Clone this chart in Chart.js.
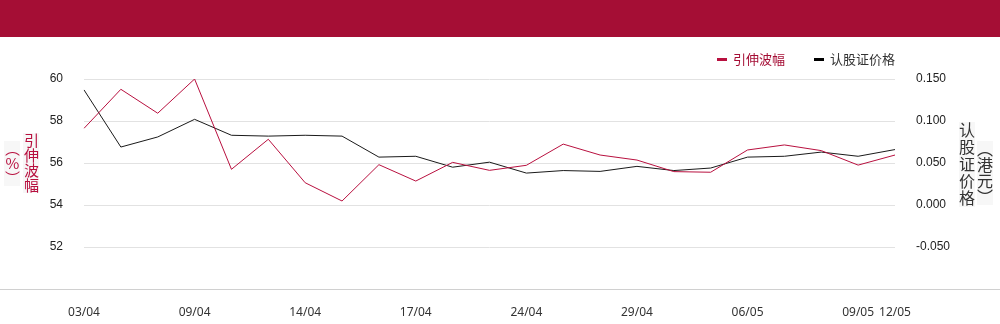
<!DOCTYPE html>
<html>
<head>
<meta charset="utf-8">
<script src="https://cdn.jsdelivr.net/npm/chart.js@4"></script>
<style>
  body { margin: 0; background: #fff; }
  #wrap { position: relative; width: 1000px; height: 324px; overflow: hidden; font-family: "Noto Sans CJK SC", "Noto Sans", sans-serif; }
  #header { position: absolute; left: 0; top: 0; width: 1000px; height: 37px; background: #a50e35; }
  #baseline { position: absolute; left: 0; top: 289px; width: 1000px; height: 1px; background: #d0d0d0; }
  canvas { position: absolute; left: 0; top: 0; }
  .legend { position: absolute; top: 50px; font-size: 13px; line-height: 18px; white-space: nowrap; }
  .legend i { display: inline-block; width: 10px; height: 3px; vertical-align: middle; margin-right: 6px; position: relative; top: -1px; }
  .vt { position: absolute; writing-mode: vertical-rl; font-size: 15px; line-height: 16px; background: #f7f7f7; white-space: nowrap; }
  .up { text-orientation: upright; }
</style>
</head>
<body>
<div id="wrap">
  <canvas id="chart" width="1000" height="324"></canvas>
  <div id="header"></div>
  <div id="baseline"></div>
  <div class="legend" style="left:717px;color:#a50e35"><i style="background:#b8103f"></i>引伸波幅</div>
  <div class="legend" style="left:814px;color:#333"><i style="background:#000"></i>认股证价格</div>
  <div class="vt" style="left:4px;top:141px;color:#b8103f">（<span class="up">%</span>）</div>
  <div class="vt" style="left:23px;top:133px;color:#b8103f">引伸波幅</div>
  <div class="vt" style="left:959px;top:122px;color:#333;font-size:16px;letter-spacing:1px">认股证价格</div>
  <div class="vt" style="left:977px;top:141px;color:#333;font-size:16px">（港元）</div>
</div>
<script>
// 交易日
const labels = ['03/04', '07/04', '08/04', '09/04', '10/04', '11/04', '14/04', '15/04',
    '16/04', '17/04', '22/04', '23/04', '24/04', '25/04', '28/04', '29/04',
    '30/04', '02/05', '06/05', '07/05', '08/05', '09/05', '12/05'];

// 引伸波幅 (%)
const volatility = [57.65, 59.51, 58.37, 60.0, 55.70, 57.13, 55.06, 54.19,
    55.92, 55.14, 56.03, 55.65, 55.89, 56.90, 56.38, 56.14,
    55.59, 55.56, 56.62, 56.86, 56.59, 55.90, 56.38];

// 认股证价格 (港元)
const warrantPrice = [0.137, 0.069, 0.081, 0.102, 0.083, 0.082, 0.083, 0.082,
    0.057, 0.058, 0.045, 0.051, 0.038, 0.041, 0.040, 0.046,
    0.041, 0.044, 0.057, 0.058, 0.063, 0.058, 0.066];

// 坐标轴范围
const leftMin = 50, leftMax = 60, leftStep = 2;
const rightMin = -0.1, rightMax = 0.15, rightStep = 0.05;

const tickFont = { family: 'Liberation Sans, Arial, sans-serif', size: 12 };

new Chart(document.getElementById('chart').getContext('2d'), {
    type: 'line',
    data: {
        labels: labels,
        datasets: [
            {
                label: '引伸波幅',
                data: volatility,
                yAxisID: 'y',
                borderColor: '#b8103f',
                borderWidth: 1,
                pointRadius: 0,
                tension: 0
            },
            {
                label: '认股证价格',
                data: warrantPrice,
                yAxisID: 'y1',
                borderColor: '#1a1a1a',
                borderWidth: 1,
                pointRadius: 0,
                tension: 0
            }
        ]
    },
    options: {
        responsive: false,
        animation: false,
        layout: { padding: { top: 79, left: 0, right: 0, bottom: 0 } },
        plugins: {
            legend: { display: false },
            tooltip: { enabled: false }
        },
        scales: {
            x: {
                grid: { display: false },
                border: { display: false },
                afterFit: s => { s.height = 35; },
                ticks: {
                    autoSkip: false,
                    maxRotation: 0,
                    padding: 8,
                    color: '#333',
                    font: { family: 'Noto Sans, sans-serif', size: 12 },
                    callback: (v, i) => (i % 3 === 0 || i === labels.length - 1) ? labels[i] : ''
                }
            },
            y: {
                position: 'left',
                min: leftMin,
                max: leftMax,
                afterFit: s => { s.width = 84; },
                border: { display: false },
                grid: {
                    drawTicks: false,
                    color: c => c.tick && c.tick.value === leftMin ? 'rgba(0,0,0,0)' : '#e2e2e2'
                },
                ticks: {
                    stepSize: leftStep,
                    padding: 21,
                    color: '#222',
                    font: tickFont,
                    callback: v => v === leftMin ? '' : v
                }
            },
            y1: {
                position: 'right',
                min: rightMin,
                max: rightMax,
                afterFit: s => { s.width = 105; },
                border: { display: false },
                grid: { display: false, drawTicks: false },
                ticks: {
                    stepSize: rightStep,
                    padding: 21,
                    color: '#222',
                    font: tickFont,
                    callback: v => Math.abs(v - rightMin) < 1e-9 ? '' : v.toFixed(3)
                }
            }
        }
    }
});
</script>
</body>
</html>
